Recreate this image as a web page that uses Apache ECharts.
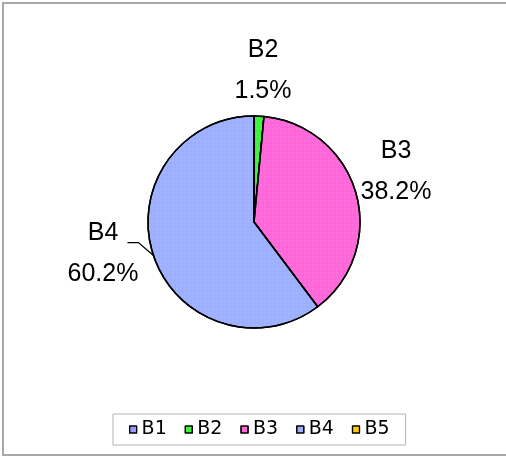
<!DOCTYPE html>
<html>
<head>
<meta charset="utf-8">
<script src="https://cdn.jsdelivr.net/npm/echarts@6/dist/echarts.min.js"></script>
<style>
  html, body { margin: 0; padding: 0; background: #fff; }
  #chart { width: 506px; height: 457px; }
</style>
</head>
<body>
<div id="chart"></div>
<script>
// 数据
var names = ['B1', 'B2', 'B3', 'B4', 'B5'];
var shares = [0, 1.5, 38.2, 60.2, 0];
var colors = ['#9999ff', '#3df23d', '#ff66d9', '#9db0ff', '#ffcc00'];

var cx = 254, cy = 222, r = 106;

// 标签位置（相对饼图中心）
var labelOffsets = {
    B2: [9, -151],
    B3: [142, -50],
    B4: [-151, 32]
};

var chart = echarts.init(document.getElementById('chart'));

var option = {
    animation: false,
    backgroundColor: '#fff',
    graphic: [{
        type: 'polyline',
        shape: { points: [[520, 3], [3, 3], [3, 455], [520, 455]] },
        style: { fill: 'none', stroke: '#a8a8a8', lineWidth: 2 },
        silent: true
    }],
    legend: {
        data: names,
        left: 113,
        top: 414,
        orient: 'horizontal',
        padding: [5, 16],
        itemGap: 18,
        itemWidth: 7,
        itemHeight: 7,
        borderColor: '#b4b4b4',
        borderWidth: 1,
        selectedMode: false,
        icon: 'rect',
        itemStyle: { borderColor: '#000', borderWidth: 1.2 },
        textStyle: { fontFamily: 'DejaVu Sans', fontSize: 19, lineHeight: 21, color: '#000' }
    },
    series: [{
        type: 'pie',
        center: [cx, cy],
        radius: [0, r],
        startAngle: 90,
        clockwise: true,
        avoidLabelOverlap: false,
        itemStyle: { borderColor: '#000', borderWidth: 1.5 },
        label: {
            show: true,
            position: 'outside',
            formatter: '{n|{b}}\n{p|{c}%}',
            rich: {
                n: { fontFamily: 'Liberation Sans', fontSize: 25, lineHeight: 41, color: '#000', align: 'center' },
                p: { fontFamily: 'Liberation Sans', fontSize: 25, lineHeight: 41, color: '#000', align: 'center' }
            }
        },
        labelLine: { show: false, lineStyle: { color: '#000', width: 1.3 } },
        labelLayout: function (params) {
            var off = labelOffsets[names[params.dataIndex]];
            if (!off) {
                return {};
            }
            var res = {
                x: cx + off[0],
                y: cy + off[1],
                align: 'center',
                verticalAlign: 'middle'
            };
            // B4 引导线：从扇区边缘折向标签
            if (names[params.dataIndex] === 'B4' && params.labelLinePoints) {
                var p0 = params.labelLinePoints[0];
                res.labelLinePoints = [p0, [p0[0] - 15, p0[1] - 13], [p0[0] - 26, p0[1] - 13]];
            }
            return res;
        },
        data: names.map(function (n, i) {
            var item = {
                name: n,
                value: shares[i],
                itemStyle: {
                    color: colors[i],
                    decal: {
                        symbol: 'rect',
                        symbolSize: 0.5,
                        dashArrayX: [[2, 2]],
                        dashArrayY: [2, 2],
                        color: 'rgba(255,255,255,0.3)'
                    }
                }
            };
            if (shares[i] === 0) {
                item.label = { show: false };
            }
            if (n === 'B4') {
                item.labelLine = { show: true };
            }
            return item;
        })
    }]
};

chart.setOption(option);
</script>
</body>
</html>
